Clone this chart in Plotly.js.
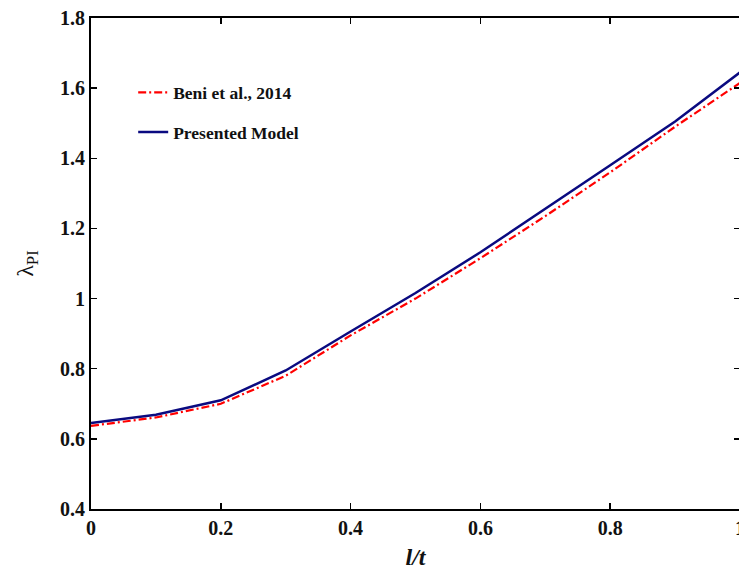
<!DOCTYPE html>
<html>
<head>
<meta charset="utf-8">
<script src="https://cdn.plot.ly/plotly-3.0.1.min.js"></script>
<style>
html,body{margin:0;padding:0;overflow:hidden;background:#fff;width:739px;height:576px;}
#chart{width:752px;height:576px;}
</style>
</head>
<body>
<div id="chart"></div>
<script>
const xValues = [0, 0.1, 0.2, 0.3, 0.4, 0.5, 0.6, 0.7, 0.8, 0.9, 1.0];
const beniValues = [0.637, 0.661, 0.700, 0.780, 0.895, 1.000, 1.115, 1.235, 1.360, 1.490, 1.615];
const modelValues = [0.645, 0.669, 0.710, 0.795, 0.906, 1.016, 1.132, 1.255, 1.380, 1.505, 1.645];
const xTicks = [0, 0.2, 0.4, 0.6, 0.8, 1];
const xTickLabels = ['0', '0.2', '0.4', '0.6', '0.8', '1'];
const yTicks = [0.4, 0.6, 0.8, 1, 1.2, 1.4, 1.6, 1.8];
const yTickLabels = ['0.4', '0.6', '0.8', '1', '1.2', '1.4', '1.6', '1.8'];

const serif = 'Liberation Serif, Times New Roman, serif';

const traces = [
  {
    x: xValues, y: beniValues, mode: 'lines', name: 'Beni et al., 2014',
    legendgroup: 'a',
    line: {color: '#ff0000', width: 2.2, dash: '8px,3px,2px,3px'}
  },
  {
    x: xValues, y: modelValues, mode: 'lines', name: 'Presented Model',
    legendgroup: 'b',
    line: {color: '#0a0a80', width: 2.5}
  }
];

const axisCommon = {
  showline: true, linecolor: '#000', linewidth: 2,
  mirror: 'ticks', ticks: 'inside', ticklen: 6, tickwidth: 1.5, tickcolor: '#000',
  showgrid: false, zeroline: false,
  tickfont: {family: serif, size: 20, color: '#111', weight: 700}
};

const layout = {
  width: 752, height: 576,
  margin: {l: 91, r: 12, t: 18, b: 67},
  paper_bgcolor: '#fff', plot_bgcolor: '#fff',
  showlegend: true,
  legend: {
    x: 0.065, y: 0.885, xanchor: 'left', yanchor: 'top',
    bgcolor: 'rgba(0,0,0,0)', borderwidth: 0,
    tracegroupgap: 14,
    traceorder: 'grouped',
    font: {family: serif, size: 17.5, color: '#111', weight: 700}
  },
  xaxis: Object.assign({}, axisCommon, {
    range: [0, 1], tickvals: xTicks, ticktext: xTickLabels,
    title: {text: '<b><i>l/t</i></b>', font: {family: serif, size: 24, color: '#111'}, standoff: 10}
  }),
  yaxis: Object.assign({}, axisCommon, {
    range: [0.4, 1.8], tickvals: yTicks, ticktext: yTickLabels,
    title: {text: 'λ<sub>PI</sub>', font: {family: serif, size: 24, color: '#111'}, standoff: 20}
  })
};

Plotly.newPlot('chart', traces, layout, {staticPlot: true, displayModeBar: false});
</script>
</body>
</html>
